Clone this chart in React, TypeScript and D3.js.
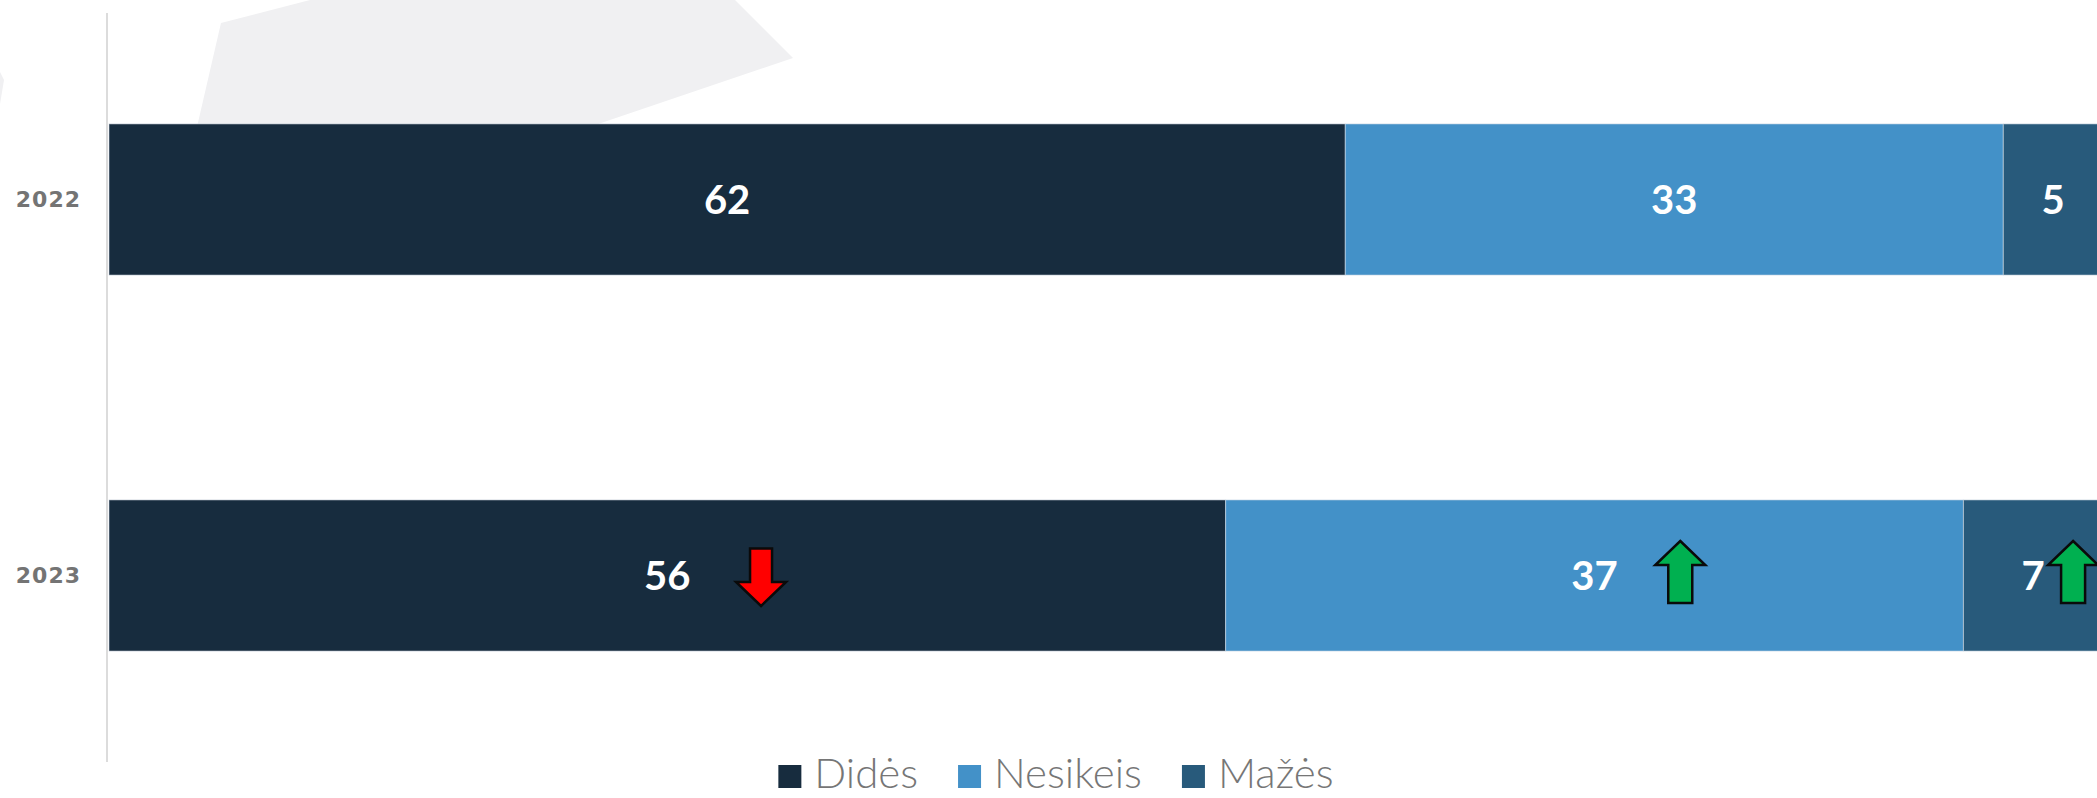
import React, { useRef, useEffect } from 'react';
import * as d3 from 'd3';

const years = ['2022', '2023'];
const seriesNames = ['Didės', 'Nesikeis', 'Mažės'];
const didesValues = [62, 56];
const nesikeisValues = [33, 37];
const mazesValues = [5, 7];
const colors = ['#172c3e', '#4391c8', '#285a7b'];

// change arrows shown on the 2023 bar: direction and where they sit (value units)
const arrowDirs = ['down', 'up', 'up'];
const arrowAt = [32.7, 78.8, 98.5];

const W = 2097;
const H = 798;

const arrowPath = (dir) => {
  const hw = 25, sw = 12, hh = 24, sh = 25;
  if (dir === 'up') {
    return `M0,${-hh - sh / 2} L${hw},${-sh / 2} L${sw},${-sh / 2} L${sw},${sh + sh / 2 - 12} L${-sw},${sh + sh / 2 - 12} L${-sw},${-sh / 2} L${-hw},${-sh / 2} Z`;
  }
  return `M0,${hh + sh / 2 - 8} L${hw},${sh / 2 - 8} L${sw - 1},${sh / 2 - 8} L${sw - 1},${-sh - 4} L${-sw + 1},${-sh - 4} L${-sw + 1},${sh / 2 - 8} L${-hw},${sh / 2 - 8} Z`;
};

const App = () => {
  const svgRef = useRef(null);

  useEffect(() => {
    const svg = d3.select(svgRef.current);
    svg.selectAll('*').remove();

    const x = d3.scaleLinear().domain([0, 100]).range([109, 2103]);
    const y = d3.scaleBand().domain(years).range([13, 762])
      .paddingInner(0.598).paddingOuter(0.295);

    // faint background shape
    svg.append('polygon')
      .attr('points', '221,23 310,0 735,0 793,58 551,140 194,140')
      .attr('fill', '#f0f0f2');
    svg.append('polygon')
      .attr('points', '0,72 4,80 0,104')
      .attr('fill', '#f0f0f2');

    // axis line
    svg.append('line')
      .attr('x1', 107).attr('x2', 107)
      .attr('y1', y.range()[0]).attr('y2', y.range()[1])
      .attr('stroke', '#dcdcdc').attr('stroke-width', 2);

    const stacks = [didesValues, nesikeisValues, mazesValues];
    const rows = years.map((yr, i) => {
      const r = { year: yr };
      seriesNames.forEach((s, j) => { r[s] = stacks[j][i]; });
      return r;
    });
    const stacked = d3.stack().keys(seriesNames)(rows);

    stacked.forEach((layer, j) => {
      const g = svg.append('g');
      g.selectAll('rect')
        .data(layer)
        .join('rect')
        .attr('x', (d) => x(d[0]))
        .attr('y', (d) => y(d.data.year))
        .attr('width', (d) => x(d[1]) - x(d[0]))
        .attr('height', y.bandwidth())
        .attr('fill', colors[j])
        .attr('stroke', 'rgba(220,225,235,0.55)')
        .attr('stroke-width', 1);
      g.selectAll('text')
        .data(layer)
        .join('text')
        .attr('x', (d) => (x(d[0]) + Math.min(x(d[1]), W + 6)) / 2)
        .attr('y', (d) => y(d.data.year) + y.bandwidth() / 2)
        .attr('dy', '0.36em')
        .attr('text-anchor', 'middle')
        .attr('fill', '#ffffff')
        .style('font-family', 'Lato, "Open Sans", sans-serif')
        .style('font-weight', 700)
        .style('font-size', '40px')
        .text((d) => d[1] - d[0]);
    });

    // arrows on 2023
    const cy = y('2023') + y.bandwidth() / 2;
    arrowDirs.forEach((dir, j) => {
      svg.append('path')
        .attr('d', arrowPath(dir))
        .attr('transform', `translate(${x(arrowAt[j])},${cy + 2})`)
        .attr('fill', dir === 'up' ? '#00b050' : '#ff0000')
        .attr('stroke', '#0a0a0a')
        .attr('stroke-width', 2.5)
        .attr('stroke-linejoin', 'miter');
    });

    // year labels
    svg.append('g').selectAll('text')
      .data(years)
      .join('text')
      .attr('x', 81)
      .attr('y', (d) => y(d) + y.bandwidth() / 2)
      .attr('dy', '0.36em')
      .attr('text-anchor', 'end')
      .attr('fill', '#747474')
      .style('font-family', '"DejaVu Sans", sans-serif')
      .style('font-weight', 700)
      .style('font-size', '22px')
      .style('letter-spacing', '1px')
      .text((d) => d);

    // legend
    const legend = svg.append('g');
    let cx = 0;
    seriesNames.forEach((name, j) => {
      const it = legend.append('g').attr('transform', `translate(${cx},0)`);
      it.append('rect')
        .attr('x', 0).attr('y', -23)
        .attr('width', 23).attr('height', 23)
        .attr('fill', colors[j]);
      const t = it.append('text')
        .attr('x', 36).attr('y', 0)
        .attr('fill', '#767676')
        .style('font-family', 'Lato, "Open Sans", sans-serif')
        .style('font-weight', 300)
        .style('font-size', '42px')
        .text(name);
      const w = t.node().getComputedTextLength();
      cx += 36 + w + 40;
    });
    const total = cx - 40;
    legend.attr('transform', `translate(${1056 - total / 2},788)`);
  }, []);

  return (
    <svg
      ref={svgRef}
      width={W}
      height={H}
      style={{ position: 'absolute', left: 0, top: 0, background: '#ffffff' }}
    />
  );
};

export default App;
